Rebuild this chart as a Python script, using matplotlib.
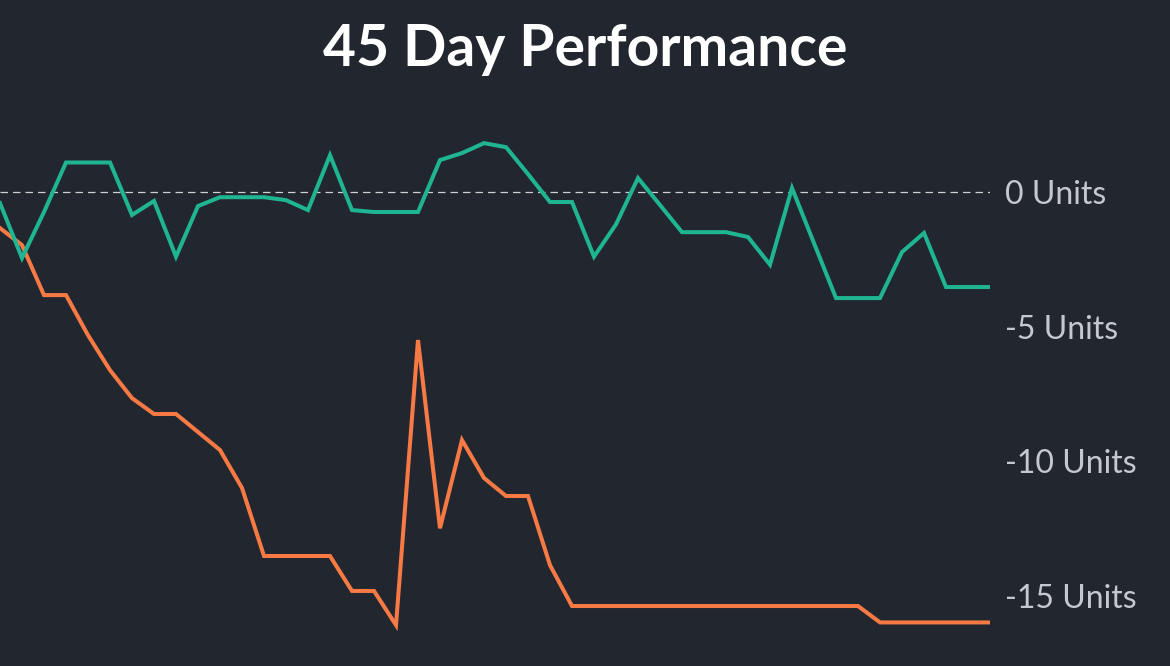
import matplotlib
matplotlib.use("Agg")
import matplotlib.pyplot as plt

days = list(range(46))
green = [-0.41,-2.45,-0.74,1.1,1.1,1.1,-0.85,-0.33,-2.4,-0.52,-0.19,-0.19,-0.19,-0.3,-0.67,1.37,
         -0.67,-0.74,-0.74,-0.74,1.19,1.45,1.82,1.67,0.67,-0.37,-0.37,-2.4,-1.2,0.52,-0.48,-1.49,
         -1.49,-1.49,-1.67,-2.7,0.15,-1.9,-3.94,-3.94,-3.94,-2.23,-1.52,-3.53,-3.53,-3.53]
orange = [-1.34,-1.97,-3.83,-3.83,-5.32,-6.62,-7.66,-8.25,-8.25,-8.92,-9.59,-11.0,-13.53,-13.53,
          -13.53,-13.53,-14.83,-14.83,-16.1,-5.5,-12.5,-9.22,-10.63,-11.3,-11.3,-13.87,-15.39,
          -15.39,-15.39,-15.39,-15.39,-15.39,-15.39,-15.39,-15.39,-15.39,-15.39,-15.39,-15.39,
          -15.39,-16.0,-16.0,-16.0,-16.0,-16.0,-16.0]
ticks = [0, -5, -10, -15]
tick_labels = ["0 Units", "-5 Units", "-10 Units", "-15 Units"]

bg = "#22262f"
fig = plt.figure(figsize=(11.7, 6.66), dpi=100, facecolor=bg)
ax = fig.add_axes([0, 0, 990/1170, 546/666], facecolor=bg)
ax.axhline(0, color="#d0d0d0", lw=0.9, ls=(0, (6, 4)))
ax.plot(days, orange, color="#f77a45", lw=2.9, solid_joinstyle="miter")
ax.plot(days, green, color="#1fb592", lw=2.9, solid_joinstyle="miter")
ax.set_xlim(0, 45)
ax.set_ylim(-17.62, 2.68)
ax.yaxis.tick_right()
ax.set_yticks(ticks)
ax.set_yticklabels(tick_labels, fontsize=23, color="#c5c8ce", family="Lato")
ax.tick_params(axis="y", length=0, pad=11)
ax.set_xticks([])
for s in ax.spines.values():
    s.set_visible(False)
fig.text(0.5, 0.925, "45 Day Performance", ha="center", va="center", fontsize=41,
         fontweight="bold", color="white", family="Lato")
fig.savefig("out.png", facecolor=bg)
